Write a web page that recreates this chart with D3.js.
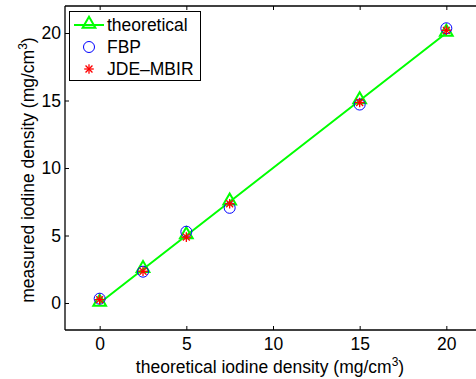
<!DOCTYPE html>
<html>
<head>
<meta charset="utf-8">
<script src="https://cdn.jsdelivr.net/npm/d3@7"></script>
<style>
  body { margin: 0; background: #fff; }
  svg { display: block; font-family: "Liberation Sans", Arial, sans-serif; }
</style>
</head>
<body>
<div id="chart"></div>
<script>
// data
const theoreticalX = [0, 2.5, 5, 7.5, 15, 20];
const theoreticalY = [0, 2.5, 5, 7.5, 15, 20];
const fbpY = [0.32, 2.32, 5.28, 7.05, 14.7, 20.35];
const jdeY = [0.25, 2.35, 4.88, 7.35, 14.85, 20.2];
const xTicks = [0, 5, 10, 15, 20];
const yTicks = [0, 5, 10, 15, 20];

const width = 476, height = 379;
const fs = 17.5;
const svg = d3.select("#chart").append("svg")
  .attr("width", width).attr("height", height);

const x = d3.scaleLinear().domain([-2, 22]).range([65, 481]);
const y = d3.scaleLinear().domain([-2, 22]).range([330, 6]);

// axes box + ticks (inward, mirrored on top)
const g = svg.append("g").attr("stroke", "#000").attr("stroke-width", 1.3);
g.append("line").attr("x1", x(-2)).attr("x2", x(22)).attr("y1", y(-2)).attr("y2", y(-2));
g.append("line").attr("x1", x(-2)).attr("x2", x(22)).attr("y1", y(22)).attr("y2", y(22));
g.append("line").attr("x1", x(-2)).attr("x2", x(-2)).attr("y1", y(-2)).attr("y2", y(22));

const xAxis = svg.append("g").attr("transform", `translate(0,${y(-2)})`)
  .call(d3.axisBottom(x).tickValues(xTicks).tickSizeInner(-4).tickSizeOuter(0).tickPadding(8));
const xAxisTop = svg.append("g").attr("transform", `translate(0,${y(22)})`)
  .call(d3.axisTop(x).tickValues(xTicks).tickSizeInner(-4).tickSizeOuter(0).tickFormat(""));
const yAxis = svg.append("g").attr("transform", `translate(${x(-2)},0)`)
  .call(d3.axisLeft(y).tickValues(yTicks).tickSizeInner(-4).tickSizeOuter(0).tickPadding(4));
[xAxis, xAxisTop, yAxis].forEach(a => {
  a.select(".domain").remove();
  a.selectAll(".tick line").attr("stroke", "#000");
  a.selectAll("text").attr("font-size", fs).attr("fill", "#000").attr("font-family", "Liberation Sans, Arial, sans-serif");
});

// axis labels
const xl = svg.append("text").attr("x", 270).attr("y", 373).attr("text-anchor", "middle")
  .attr("font-size", fs).attr("fill", "#000");
xl.append("tspan").text("theoretical iodine density (mg/cm");
xl.append("tspan").attr("font-size", 12).attr("dy", -7).text("3");
xl.append("tspan").attr("dy", 7).text(")");

const yl = svg.append("text").attr("transform", `translate(34,${y(10) + 2}) rotate(-90)`)
  .attr("text-anchor", "middle").attr("font-size", fs).attr("fill", "#000");
yl.append("tspan").text("measured iodine density (mg/cm");
yl.append("tspan").attr("font-size", 12).attr("dy", -7).text("3");
yl.append("tspan").attr("dy", 7).text(")");

const tri = d3.symbol().type(d3.symbolTriangle).size(70);
function star(sel, cx, cy) {
  const r = 4.8;
  const gg = sel.append("g").attr("transform", `translate(${cx},${cy})`).attr("stroke", "#ff0000").attr("stroke-width", 1.3);
  [[0, r, 0, -r], [-r, 0, r, 0], [-r*0.72, -r*0.72, r*0.72, r*0.72], [-r*0.72, r*0.72, r*0.72, -r*0.72]]
    .forEach(l => gg.append("line").attr("x1", l[0]).attr("y1", l[1]).attr("x2", l[2]).attr("y2", l[3]));
}

// theoretical line + triangles
const line = d3.line().x((d, i) => x(theoreticalX[i])).y(d => y(d));
svg.append("path").datum(theoreticalY).attr("d", line)
  .attr("fill", "none").attr("stroke", "#00ff00").attr("stroke-width", 2);
svg.append("g").selectAll("path").data(theoreticalY).join("path")
  .attr("d", tri).attr("transform", (d, i) => `translate(${x(theoreticalX[i])},${y(d) - 1})`)
  .attr("fill", "none").attr("stroke", "#00ff00").attr("stroke-width", 2);

// FBP circles
svg.append("g").selectAll("circle").data(fbpY).join("circle")
  .attr("cx", (d, i) => x(theoreticalX[i])).attr("cy", d => y(d)).attr("r", 5.5)
  .attr("fill", "none").attr("stroke", "#0000ff").attr("stroke-width", 1);

// JDE-MBIR stars
const sg = svg.append("g");
jdeY.forEach((d, i) => star(sg, x(theoreticalX[i]), y(d)));

// legend
const lg = svg.append("g");
lg.append("rect").attr("x", 69.5).attr("y", 11.5).attr("width", 131).attr("height", 69)
  .attr("fill", "#fff").attr("stroke", "#000").attr("stroke-width", 1);
const rows = [25, 47, 69];
lg.append("line").attr("x1", 74).attr("x2", 104).attr("y1", rows[0]).attr("y2", rows[0])
  .attr("stroke", "#00ff00").attr("stroke-width", 2);
lg.append("path").attr("d", tri).attr("transform", `translate(89,${rows[0] - 1})`)
  .attr("fill", "none").attr("stroke", "#00ff00").attr("stroke-width", 2);
lg.append("circle").attr("cx", 89).attr("cy", rows[1]).attr("r", 5.5)
  .attr("fill", "none").attr("stroke", "#0000ff");
star(lg, 89, rows[2]);
["theoretical", "FBP", "JDE\u2013MBIR"].forEach((t, i) => {
  lg.append("text").attr("x", 107).attr("y", rows[i] + 6).attr("font-size", fs)
    .attr("fill", "#000").text(t);
});
</script>
</body>
</html>
